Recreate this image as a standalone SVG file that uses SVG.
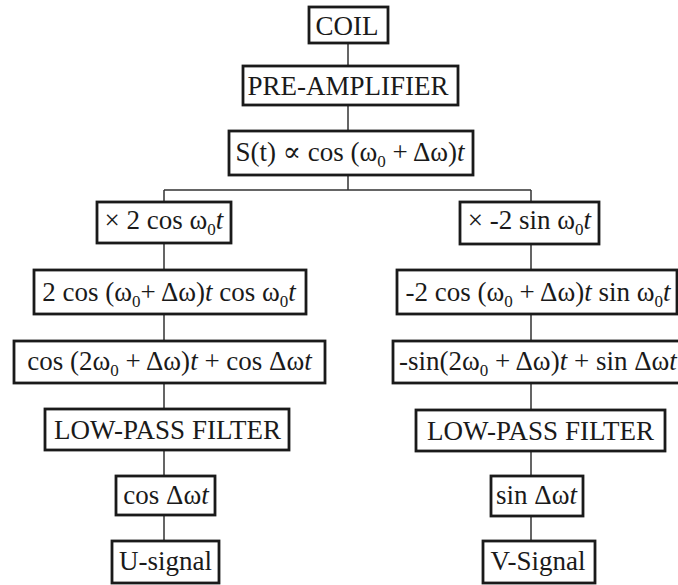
<svg xmlns="http://www.w3.org/2000/svg" width="678" height="585" viewBox="0 0 678 585">
<style>
.box{fill:#fff;stroke:#1a1a1a;stroke-width:2.8}
.ln{stroke:#333;stroke-width:1.5;fill:none}
text{font-family:'Liberation Serif','Times New Roman',Tinos,'DejaVu Serif',serif;font-size:27px;fill:#1a1a1a;text-anchor:middle}
.s{font-size:17px}
.i{font-style:italic}
</style>
<rect width="678" height="585" fill="#fff"/>
<g id="connectors">
<path class="ln" d="M348 43V66M348 105V131M348 175V190M164 190H531"/>
<path class="ln" d="M164 190V202M164 243V270M164 314V341M164 383V409M164 450V476M164 515V541"/>
<path class="ln" d="M531 190V202M531 244V270M531 314V341M531 383V410M531 451V476M531 516V541"/>
</g>
<g id="coil"><rect class="box" x="309" y="7" width="79" height="36"/><text x="347" y="35">COIL</text></g>
<g id="preamp"><rect class="box" x="243" y="66" width="215" height="39"/><text x="348" y="95">PRE-AMPLIFIER</text></g>
<g id="signal"><rect class="box" x="229" y="131" width="244" height="44"/><text x="350" y="161">S(t) ∝ cos (ω<tspan class="s" dy="6">0</tspan><tspan dy="-6"> + Δω)</tspan><tspan class="i">t</tspan></text></g>
<g id="mulcos"><rect class="box" x="97" y="202" width="134" height="41"/><text x="164" y="229">× 2 cos ω<tspan class="s" dy="6">0</tspan><tspan class="i" dy="-6">t</tspan></text></g>
<g id="prodcos"><rect class="box" x="34" y="270" width="272" height="44"/><text x="169" y="301">2 cos (ω<tspan class="s" dy="6">0</tspan><tspan dy="-6">+ Δω)</tspan><tspan class="i">t</tspan> cos ω<tspan class="s" dy="6">0</tspan><tspan class="i" dy="-6">t</tspan></text></g>
<g id="sumcos"><rect class="box" x="14" y="341" width="311" height="42"/><text x="169.5" y="370">cos (2ω<tspan class="s" dy="6">0</tspan><tspan dy="-6"> + Δω)</tspan><tspan class="i">t</tspan> + cos Δω<tspan class="i">t</tspan></text></g>
<g id="lpf-left"><rect class="box" x="45" y="409" width="244" height="41"/><text x="167.5" y="439">LOW-PASS FILTER</text></g>
<g id="cosdw"><rect class="box" x="116" y="476" width="99" height="39"/><text x="166" y="504">cos Δω<tspan class="i">t</tspan></text></g>
<g id="usignal"><rect class="box" x="112" y="541" width="107" height="42"/><text x="165.5" y="570">U-signal</text></g>
<g id="mulsin"><rect class="box" x="460" y="202" width="139" height="42"/><text x="529.5" y="229">× -2 sin ω<tspan class="s" dy="6">0</tspan><tspan class="i" dy="-6">t</tspan></text></g>
<g id="prodsin"><rect class="box" x="397" y="270" width="280" height="44"/><text x="538" y="301">-2 cos (ω<tspan class="s" dy="6">0</tspan><tspan dy="-6"> + Δω)</tspan><tspan class="i">t</tspan> sin ω<tspan class="s" dy="6">0</tspan><tspan class="i" dy="-6">t</tspan></text></g>
<g id="sumsin"><rect class="box" x="393" y="341" width="300" height="42"/><text x="399" y="370" style="text-anchor:start">-sin(2ω<tspan class="s" dy="6">0</tspan><tspan dy="-6"> + Δω)</tspan><tspan class="i">t</tspan> + sin Δω<tspan class="i">t</tspan></text></g>
<g id="lpf-right"><rect class="box" x="416" y="410" width="249" height="41"/><text x="540.5" y="440">LOW-PASS FILTER</text></g>
<g id="sindw"><rect class="box" x="491" y="476" width="92" height="40"/><text x="536.5" y="504">sin Δω<tspan class="i">t</tspan></text></g>
<g id="vsignal"><rect class="box" x="483" y="541" width="112" height="42"/><text x="538" y="570">V-Signal</text></g>
</svg>
